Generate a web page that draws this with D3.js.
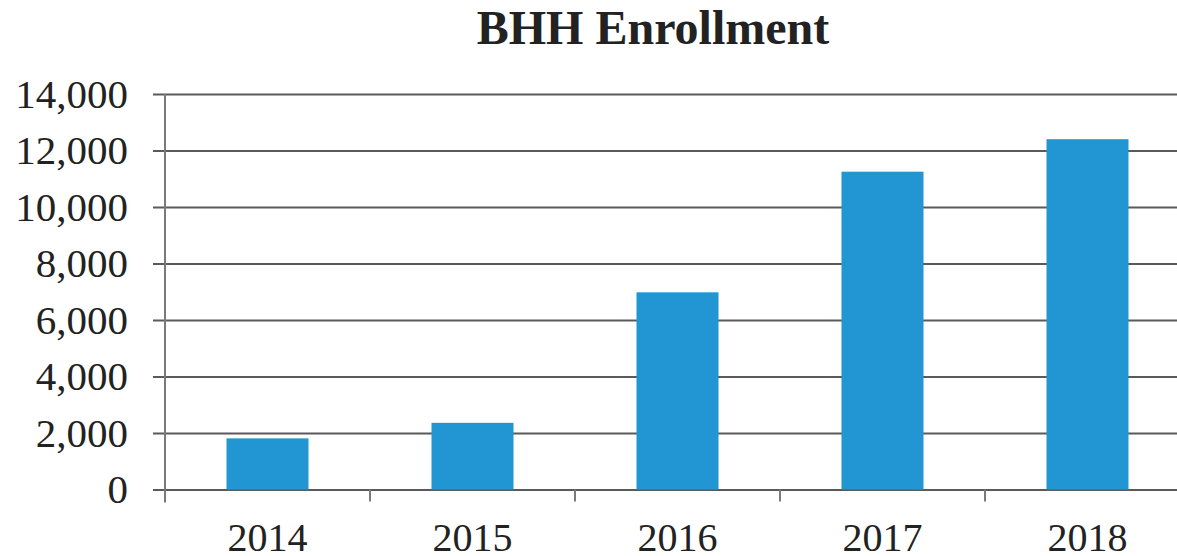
<!DOCTYPE html>
<html>
<head>
<meta charset="utf-8">
<script src="https://cdn.jsdelivr.net/npm/d3@7"></script>
<style>
  html, body { margin: 0; padding: 0; background: #fff; overflow: hidden; }
  svg { display: block; font-family: "Liberation Serif", "Times New Roman", serif; }
</style>
</head>
<body>
<svg id="chart" width="1177" height="556"></svg>
<script>
// Enrollment by year
const years = ["2014", "2015", "2016", "2017", "2018"];
const enrollment = [1810, 2360, 6980, 11250, 12400];
const yTicks = [0, 2000, 4000, 6000, 8000, 10000, 12000, 14000];
const title = "BHH Enrollment";

const svg = d3.select("#chart");
const plotLeft = 165, plotRight = 1190, plotTop = 94, plotBottom = 489.5;

const x = d3.scaleBand()
  .domain(years)
  .range([plotLeft, plotRight])
  .paddingInner(0.6)
  .paddingOuter(0.3);

const y = d3.scaleLinear()
  .domain([0, 14000])
  .range([plotBottom, plotTop]);

// Title
svg.append("text")
  .attr("x", 653)
  .attr("y", 44)
  .attr("text-anchor", "middle")
  .attr("font-size", 48)
  .attr("font-weight", "bold")
  .attr("fill", "#222")
  .text(title);

// Horizontal gridlines with tick stubs to the left of the axis
const yAxis = d3.axisLeft(y)
  .tickValues(yTicks)
  .tickSize(-(plotRight - plotLeft))
  .tickSizeOuter(0)
  .tickPadding(0)
  .tickFormat(d3.format(","));

const gy = svg.append("g")
  .attr("transform", `translate(${plotLeft},0)`)
  .call(yAxis);
gy.select(".domain").remove();
gy.selectAll(".tick line")
  .attr("x1", -12)
  .attr("stroke", "#5a5a5a")
  .attr("stroke-width", 2);
gy.selectAll(".tick text")
  .attr("x", -37)
  .attr("dy", null)
  .attr("y", 13)
  .attr("font-size", 41)
  .attr("fill", "#222")
  .attr("font-family", "Liberation Serif, Times New Roman, serif");

// Bars
svg.append("g")
  .selectAll("rect")
  .data(years.map((yr, i) => ({ yr, v: enrollment[i] })))
  .join("rect")
  .attr("x", d => x(d.yr))
  .attr("width", x.bandwidth())
  .attr("y", d => y(d.v))
  .attr("height", d => y(0) - y(d.v))
  .attr("fill", "#2196d3");

// Vertical axis line
svg.append("line")
  .attr("x1", plotLeft).attr("x2", plotLeft)
  .attr("y1", plotTop).attr("y2", plotBottom + 13)
  .attr("stroke", "#7a7a7a")
  .attr("stroke-width", 2);

// Category axis along the bottom
const xAxis = d3.axisBottom(x).tickSize(0).tickSizeOuter(0).tickPadding(0);
const gx = svg.append("g")
  .attr("transform", `translate(0,${plotBottom})`)
  .call(xAxis);
gx.select(".domain").remove();
gx.selectAll(".tick text")
  .attr("dy", null)
  .attr("y", 61)
  .attr("font-size", 40)
  .attr("fill", "#222")
  .attr("font-family", "Liberation Serif, Times New Roman, serif");

// Category boundary ticks
const step = x.step();
const boundaries = d3.range(1, years.length + 1).map(i => plotLeft + i * step);
svg.append("g")
  .selectAll("line")
  .data(boundaries)
  .join("line")
  .attr("x1", d => d).attr("x2", d => d)
  .attr("y1", plotBottom).attr("y2", plotBottom + 12)
  .attr("stroke", "#7a7a7a")
  .attr("stroke-width", 2);
</script>
</body>
</html>
